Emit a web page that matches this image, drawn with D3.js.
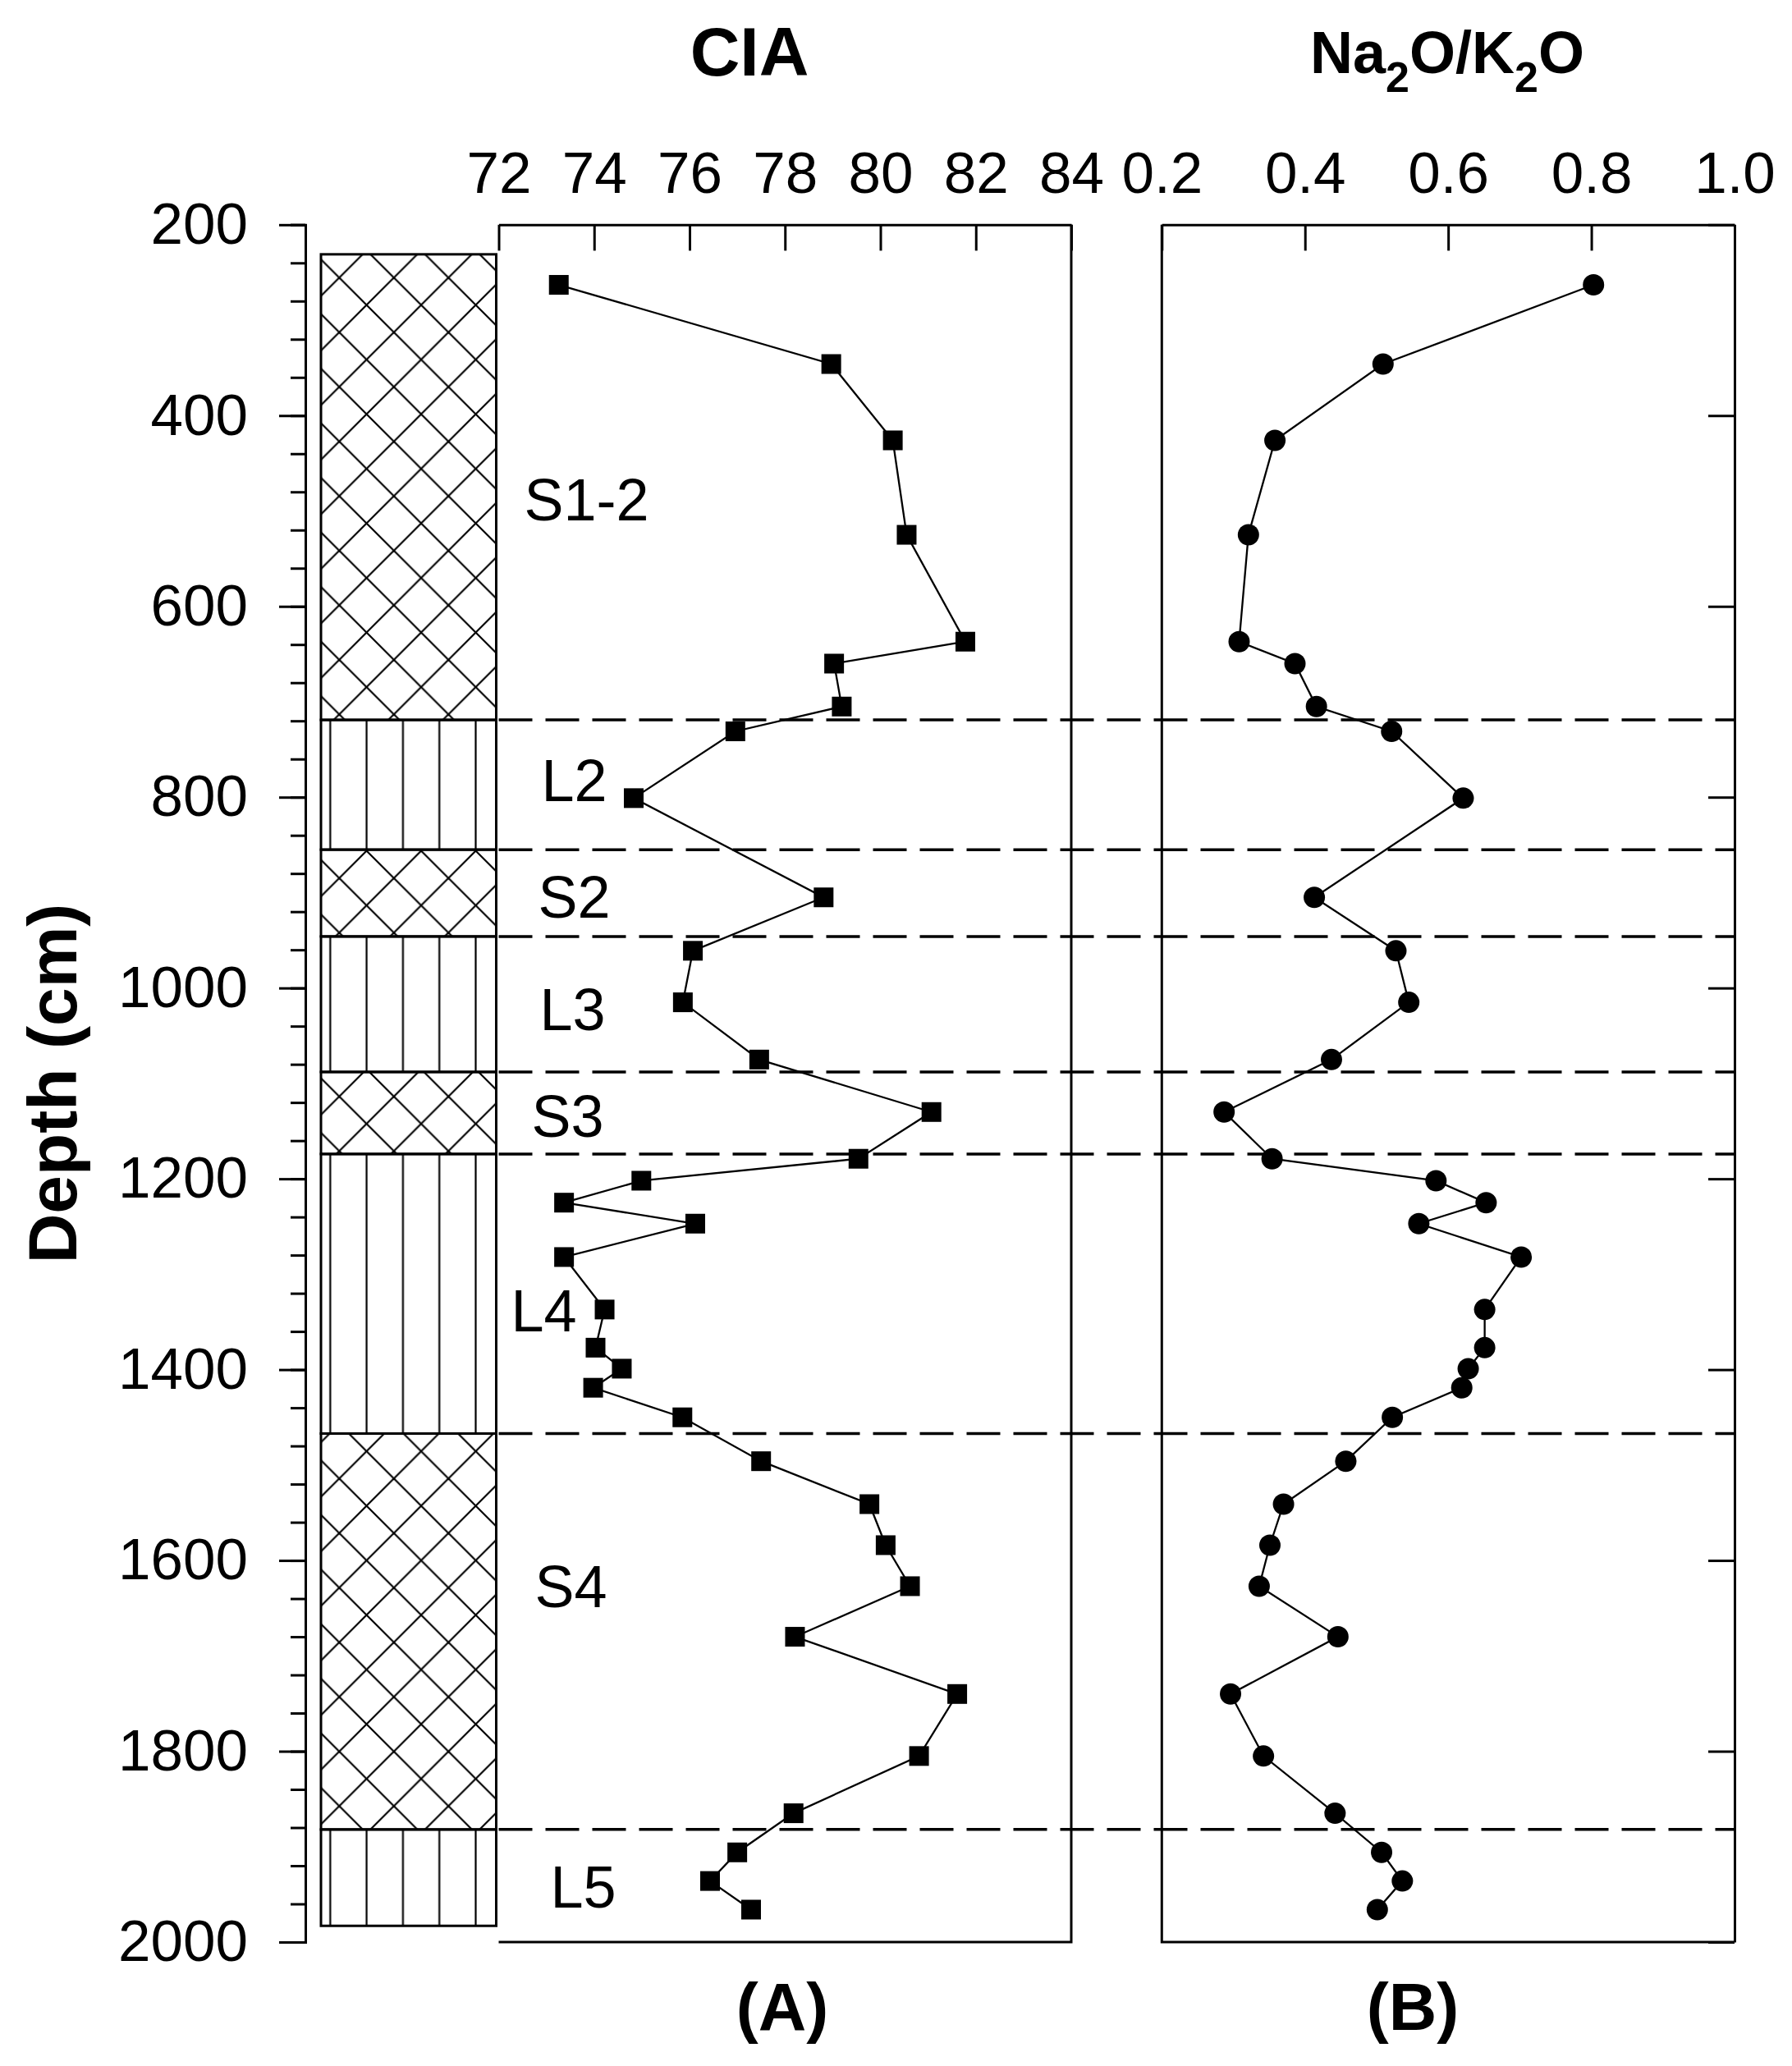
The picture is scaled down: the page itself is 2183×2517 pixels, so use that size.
<!DOCTYPE html>
<html>
<head>
<meta charset="utf-8">
<script src="https://cdn.jsdelivr.net/npm/d3@7"></script>
<style>
  body { margin: 0; background: #fff; }
  text { font-family: "Liberation Sans", Arial, sans-serif; fill: #000; }
</style>
</head>
<body>
<div id="chart"></div>
<script>
// sample depths (cm), shared by both profiles
var depths = [263, 346, 426, 525, 637, 660, 705, 731, 801, 905, 961, 1015, 1075, 1130, 1179,
              1202, 1225, 1247, 1282, 1337, 1377, 1399, 1419, 1450, 1496, 1541, 1584, 1627,
              1680, 1740, 1805, 1865, 1906, 1936, 1966];
// (A) CIA
var ciaValues = [73.26, 78.97, 80.26, 80.55, 81.78, 79.03, 79.19, 76.96, 74.83, 78.81, 76.07,
                 75.86, 77.46, 81.07, 79.54, 74.99, 73.37, 76.12, 73.37, 74.22, 74.03, 74.58,
                 73.98, 75.85, 77.50, 79.77, 80.11, 80.62, 78.21, 81.61, 80.81, 78.18, 77.00,
                 76.43, 77.29];
// (B) Na2O/K2O
var ratioValues = [0.803, 0.509, 0.358, 0.321, 0.308, 0.386, 0.416, 0.521, 0.621, 0.413, 0.527,
                   0.545, 0.437, 0.287, 0.354, 0.583, 0.653, 0.559, 0.702, 0.651, 0.651, 0.628,
                   0.619, 0.522, 0.457, 0.370, 0.351, 0.336, 0.446, 0.296, 0.342, 0.442, 0.507,
                   0.536, 0.501];

// stratigraphy column
var layerNames   = ["S1-2", "L2", "S2", "L3", "S3", "L4", "S4", "L5"];
var layerTops    = [231, 719, 855, 946, 1088, 1174, 1467, 1882];
var layerBottoms = [719, 855, 946, 1088, 1174, 1467, 1882, 1983];
var layerKinds   = ["paleosol", "loess", "paleosol", "loess", "paleosol", "loess", "paleosol", "loess"];

// ticks
var depthTicks = [200, 400, 600, 800, 1000, 1200, 1400, 1600, 1800, 2000];
var depthMinorTicks = d3.range(200, 2001, 40);
var ciaTicks = [72, 74, 76, 78, 80, 82, 84];
var ratioTicks = [0.2, 0.4, 0.6, 0.8, 1.0];

/************* LAYOUT ***********************/
var W = 2183, H = 2517;
var plotTop = 273.8, plotBottom = 2366;
var colLeft = 391, colRight = 604.5;
var aLeft = 607.5, aRight = 1305;
var bLeft = 1415.3, bRight = 2113;
// label anchor: x offset from panel A left, baseline depth
var labelPos = [[31, 510], [52, 804], [48, 926], [50, 1044], [40, 1156], [15, 1360], [44, 1649], [63, 1964]];

var svg = d3.select("#chart").append("svg")
    .attr("width", W)
    .attr("height", H);

var y = d3.scaleLinear().domain([200, 2000]).range([plotTop, plotBottom]);
var xA = d3.scaleLinear().domain([72, 84]).range([aLeft, aRight]);
var xB = d3.scaleLinear().domain([0.2, 1.0]).range([bLeft, bRight]);

// patterns for the column
var defs = svg.append("defs");
var s = 66.5;
var hatch = defs.append("pattern")
    .attr("id", "hatch")
    .attr("patternUnits", "userSpaceOnUse")
    .attr("width", s).attr("height", s)
    .attr("x", 413.3 % s).attr("y", 338.3 % s);
[-s, 0, s].forEach(function(c){
  hatch.append("line").attr("x1", 0).attr("y1", c).attr("x2", s).attr("y2", s + c)
      .attr("stroke", "#000").attr("stroke-width", 2.2);
});
[0, s, 2 * s].forEach(function(c){
  hatch.append("line").attr("x1", 0).attr("y1", c).attr("x2", s).attr("y2", c - s)
      .attr("stroke", "#000").attr("stroke-width", 2.2);
});
var vw = 44.3;
var vl = defs.append("pattern")
    .attr("id", "vlines")
    .attr("patternUnits", "userSpaceOnUse")
    .attr("width", vw).attr("height", 20)
    .attr("x", 402.3 - vw / 2).attr("y", 0);
vl.append("line").attr("x1", vw / 2).attr("x2", vw / 2).attr("y1", 0).attr("y2", 20)
    .attr("stroke", "#000").attr("stroke-width", 2.2);

var layers = layerNames.map(function(n, i){
  return { name: n, top: layerTops[i], bottom: layerBottoms[i], kind: layerKinds[i] };
});

svg.append("g").selectAll("rect").data(layers).enter()
  .append("rect")
    .attr("x", colLeft)
    .attr("width", colRight - colLeft)
    .attr("y", function(d){ return y(d.top); })
    .attr("height", function(d){ return y(d.bottom) - y(d.top); })
    .attr("fill", function(d){ return d.kind === "paleosol" ? "url(#hatch)" : "url(#vlines)"; })
    .attr("stroke", "#000")
    .attr("stroke-width", 3);

// dashed boundaries across both panels
svg.append("g").selectAll("line").data(layerTops.slice(1)).enter()
  .append("line")
    .attr("x1", aLeft).attr("x2", bRight)
    .attr("y1", function(d){ return y(d); })
    .attr("y2", function(d){ return y(d); })
    .attr("stroke", "#000")
    .attr("stroke-width", 3.5)
    .attr("stroke-dasharray", "41,16");

// layer labels
svg.append("g").selectAll("text").data(layers).enter()
  .append("text")
    .attr("x", function(d, i){ return aLeft + labelPos[i][0]; })
    .attr("y", function(d, i){ return y(labelPos[i][1]); })
    .attr("font-size", 72)
    .text(function(d){ return d.name; });

/************* AXES ***********************/
function styleAxis(g, fs){
  g.selectAll("path.domain").attr("stroke", "#000").attr("stroke-width", 3);
  g.selectAll(".tick line").attr("stroke", "#000").attr("stroke-width", 3);
  g.selectAll(".tick text").attr("font-size", fs).attr("fill", "#000")
    .style("font-family", "'Liberation Sans', Arial, sans-serif");
}

// depth axis
var yMinor = svg.append("g").attr("transform", "translate(372,0)")
    .call(d3.axisLeft(y).tickValues(depthMinorTicks).tickSize(18).tickFormat(""));
styleAxis(yMinor, 71);
var yAxis = svg.append("g").attr("transform", "translate(372,0)")
    .call(d3.axisLeft(y).tickValues(depthTicks).tickSizeInner(32).tickSizeOuter(0)
          .tickPadding(38).tickFormat(d3.format("d")));
styleAxis(yAxis, 71);

// panel A
var aTop = svg.append("g").attr("transform", "translate(0," + plotTop + ")")
    .call(d3.axisTop(xA).tickValues(ciaTicks).tickSizeInner(-31.6).tickSizeOuter(0)
          .tickPadding(38.8).tickFormat(d3.format("d")));
styleAxis(aTop, 71);
svg.append("path")
    .attr("d", "M" + aRight + "," + plotTop + "V" + plotBottom + "H" + aLeft)
    .attr("fill", "none").attr("stroke", "#000").attr("stroke-width", 3);

// panel B
var bTop = svg.append("g").attr("transform", "translate(0," + plotTop + ")")
    .call(d3.axisTop(xB).tickValues(ratioTicks).tickSizeInner(-31.6).tickSizeOuter(0)
          .tickPadding(38.8).tickFormat(d3.format(".1f")));
styleAxis(bTop, 71);
var bRightAxis = svg.append("g").attr("transform", "translate(" + bRight + ",0)")
    .call(d3.axisRight(y).tickValues(depthTicks).tickSizeInner(-32).tickSizeOuter(0).tickFormat(""));
styleAxis(bRightAxis, 71);
svg.append("path")
    .attr("d", "M" + bLeft + "," + plotTop + "V" + plotBottom + "H" + bRight)
    .attr("fill", "none").attr("stroke", "#000").attr("stroke-width", 3);

/************* PROFILES ***********************/
var ciaData = depths.map(function(d, i){ return { depth: d, v: ciaValues[i] }; });
var ratioData = depths.map(function(d, i){ return { depth: d, v: ratioValues[i] }; });

svg.append("path").datum(ciaData)
    .attr("fill", "none").attr("stroke", "#000").attr("stroke-width", 2.3)
    .attr("d", d3.line().x(function(d){ return xA(d.v); }).y(function(d){ return y(d.depth); }));
svg.append("g").selectAll("rect").data(ciaData).enter()
  .append("rect")
    .attr("x", function(d){ return xA(d.v) - 12; })
    .attr("y", function(d){ return y(d.depth) - 12; })
    .attr("width", 24).attr("height", 24)
    .attr("fill", "#000");

svg.append("path").datum(ratioData)
    .attr("fill", "none").attr("stroke", "#000").attr("stroke-width", 2.3)
    .attr("d", d3.line().x(function(d){ return xB(d.v); }).y(function(d){ return y(d.depth); }));
svg.append("g").selectAll("circle").data(ratioData).enter()
  .append("circle")
    .attr("cx", function(d){ return xB(d.v); })
    .attr("cy", function(d){ return y(d.depth); })
    .attr("r", 13)
    .attr("fill", "#000");

/************* TITLES ***********************/
svg.append("text")
    .attr("x", 913).attr("y", 92)
    .attr("text-anchor", "middle").attr("font-size", 84).attr("font-weight", "bold")
    .text("CIA");

var t2 = svg.append("text")
    .attr("x", 1763).attr("y", 89)
    .attr("text-anchor", "middle").attr("font-size", 72).attr("font-weight", "bold");
t2.append("tspan").text("Na");
t2.append("tspan").attr("dy", 23).attr("font-size", 52).text("2");
t2.append("tspan").attr("dy", -23).text("O/K");
t2.append("tspan").attr("dy", 23).attr("font-size", 52).text("2");
t2.append("tspan").attr("dy", -23).text("O");

svg.append("text")
    .attr("x", 953).attr("y", 2473)
    .attr("text-anchor", "middle").attr("font-size", 81).attr("font-weight", "bold")
    .text("(A)");
svg.append("text")
    .attr("x", 1721).attr("y", 2473)
    .attr("text-anchor", "middle").attr("font-size", 81).attr("font-weight", "bold")
    .text("(B)");

svg.append("text")
    .attr("transform", "translate(93,1320) rotate(-90)")
    .attr("text-anchor", "middle").attr("font-size", 84).attr("font-weight", "bold")
    .text("Depth (cm)");
</script>
</body>
</html>
